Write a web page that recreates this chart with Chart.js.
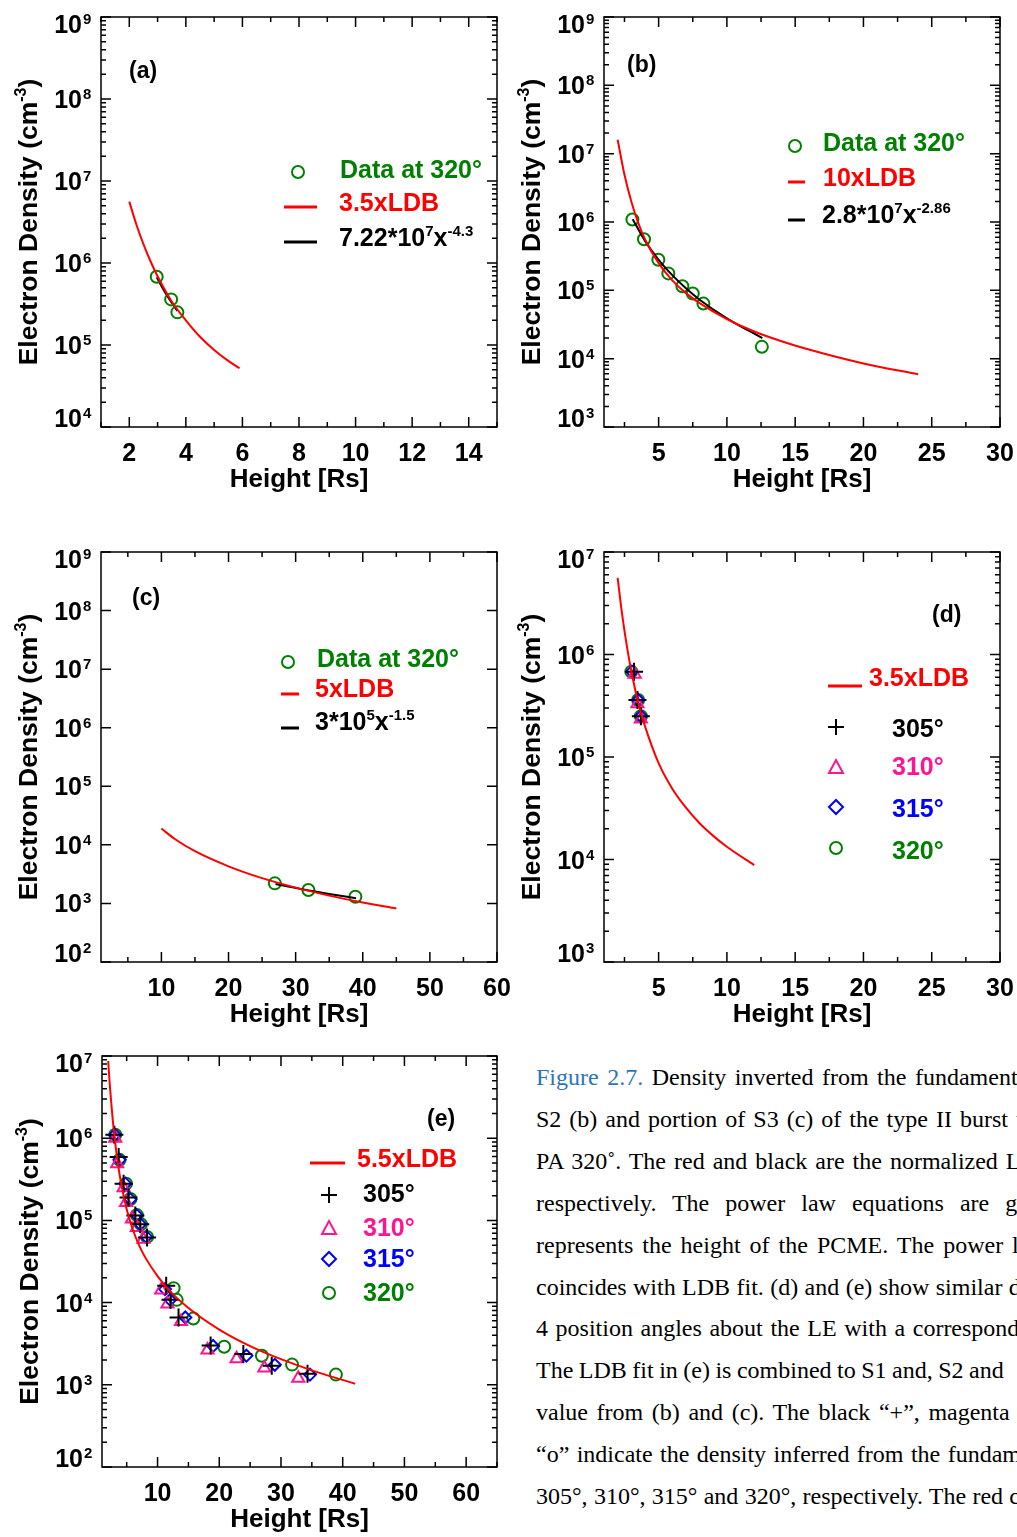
<!DOCTYPE html>
<html>
<head>
<meta charset="utf-8">
<script src="https://cdn.jsdelivr.net/npm/chart.js@4.4.1/dist/chart.umd.min.js"></script>
<style>
  body { margin: 0; width: 1017px; height: 1537px; overflow: hidden; background: #fff; position: relative; }
  canvas { position: absolute; }
  #caption { position: absolute; left: 536px; top: 1057px; font: 24px "Liberation Serif", "Times New Roman", serif;
             line-height: 41.9px; color: #000; white-space: nowrap; }
</style>
</head>
<body>
<canvas id="pa" width="520" height="500" style="left:0;top:0"></canvas>
<canvas id="pb" width="509" height="500" style="left:508px;top:0"></canvas>
<canvas id="pc" width="520" height="500" style="left:0;top:535px"></canvas>
<canvas id="pd" width="509" height="500" style="left:508px;top:535px"></canvas>
<canvas id="pe" width="530" height="497" style="left:0;top:1040px"></canvas>

<div id="caption">
  <div style="word-spacing:2.5px"><span style="color:#2e74b5">Figure 2.7.</span> Density inverted from the fundamental</div>
  <div style="word-spacing:2px">S2 (b) and portion of S3 (c) of the type II burst using</div>
  <div style="word-spacing:2px">PA 320˚. The red and black are the normalized LDB</div>
  <div style="word-spacing:10px">respectively. The power law equations are given</div>
  <div style="word-spacing:3px">represents the height of the PCME. The power law</div>
  <div style="word-spacing:0.4px">coincides with LDB fit. (d) and (e) show similar density</div>
  <div style="word-spacing:1.6px">4 position angles about the LE with a corresponding</div>
  <div style="word-spacing:-0.5px">The LDB fit in (e) is combined to S1 and, S2 and</div>
  <div style="word-spacing:2.6px">value from (b) and (c). The black “+”, magenta</div>
  <div style="word-spacing:1.4px">“o” indicate the density inferred from the fundamental</div>
  <div style="word-spacing:0.3px">305°, 310°, 315° and 320°, respectively. The red curve</div>
</div>

<script>
const RED = '#ff0000';
const GREEN = '#008000';
const MAGENTA = '#ff1493';
const BLUE = '#0000ff';
const FONT = '"Liberation Sans", Arial, sans-serif';

// (a) S1 at 320 deg
const ldbHeightA = [2, 2.25, 2.5, 2.75, 3, 3.5, 4, 4.5, 5, 5.5, 5.9];
const ldbDensityA = [5.6e6, 2.95e6, 1.7e6, 1.05e6, 6.9e5, 3.4e5, 2.0e5, 1.26e5, 8.7e4, 6.4e4, 5.2e4];
const fitHeightA = [2.97, 3.3, 3.7];
const fitDensityA = [6.7e5, 4.2e5, 2.6e5];
const dataHeightA = [2.97, 3.48, 3.70];
const dataDensityA = [6.8e5, 3.6e5, 2.5e5];
const xTicksA = [2, 4, 6, 8, 10, 12, 14];
const yExpA = [4, 5, 6, 7, 8, 9];

// (b) S2 at 320 deg
const ldbHeightB = [2, 2.5, 3, 3.5, 4, 5, 6, 7, 8, 10, 12, 14, 16, 20, 24];
const ldbDensityB = [1.6e7, 4.9e6, 2.0e6, 9.8e5, 5.6e5, 2.5e5, 1.4e5, 9.1e4, 6.5e4, 3.8e4, 2.5e4, 1.8e4, 1.36e4, 8.5e3, 5.9e3];
const fitHeightB = [3.1, 4, 5, 6, 7, 8, 10, 12.6];
const fitDensityB = [1.1e6, 5.3e5, 2.8e5, 1.67e5, 1.07e5, 7.3e4, 3.9e4, 2.0e4];
const dataHeightB = [3.08, 3.93, 4.98, 5.71, 6.74, 7.50, 8.28, 12.56];
const dataDensityB = [1.09e6, 5.6e5, 2.8e5, 1.77e5, 1.15e5, 9.0e4, 6.4e4, 1.49e4];
const xTicksB = [5, 10, 15, 20, 25, 30];
const yExpB = [3, 4, 5, 6, 7, 8, 9];

// (c) S3 at 320 deg
const ldbHeightC = [10, 12, 15, 20, 25, 30, 35, 40, 45];
const ldbDensityC = [1.9e4, 1.26e4, 7.8e3, 4.3e3, 2.7e3, 1.86e3, 1.36e3, 1.04e3, 820];
const fitHeightC = [27, 32, 35, 39];
const fitDensityC = [2.14e3, 1.66e3, 1.45e3, 1.23e3];
const dataHeightC = [26.9, 31.9, 38.9];
const dataDensityC = [2.2e3, 1.7e3, 1.3e3];
const xTicksC = [10, 20, 30, 40, 50, 60];
const yExpC = [2, 3, 4, 5, 6, 7, 8, 9];

// (d) S1, four position angles
const ldbHeightD = [2, 2.25, 2.5, 2.75, 3, 3.5, 4, 5, 6, 7, 8, 9, 10, 12];
const ldbDensityD = [5.6e6, 2.95e6, 1.7e6, 1.05e6, 6.9e5, 3.4e5, 2.0e5, 8.7e4, 4.9e4, 3.2e4, 2.26e4, 1.7e4, 1.33e4, 8.8e3];
const h305D = [3.2, 3.45, 3.7];
const n305D = [6.8e5, 3.6e5, 2.5e5];
const h310D = [3.25, 3.45, 3.7];
const n310D = [6.4e5, 3.3e5, 2.35e5];
const h315D = [3.05, 3.5, 3.7];
const n315D = [6.8e5, 3.6e5, 2.5e5];
const h320D = [3.0, 3.5, 3.7];
const n320D = [6.8e5, 3.6e5, 2.5e5];
const xTicksD = [5, 10, 15, 20, 25, 30];
const yExpD = [3, 4, 5, 6, 7];

// (e) combined, four position angles
const ldbHeightE = [2, 2.25, 2.5, 2.75, 3, 3.5, 4, 5, 6, 7, 8, 10, 12, 15, 20, 25, 30, 35, 42];
const ldbDensityE = [8.7e6, 4.6e6, 2.7e6, 1.65e6, 1.08e6, 5.4e5, 3.1e5, 1.37e5, 7.7e4, 5.0e4, 3.55e4, 2.1e4, 1.38e4, 8.6e3, 4.7e3, 2.96e3, 2.05e3, 1.5e3, 1.03e3];
const h305E = [3.0, 3.7, 4.5, 5.3, 6.4, 7.2, 8.3, 11.4, 12.1, 13.4, 18.6, 23.9, 28.5, 34.3];
const n305E = [1.1e6, 5.9e5, 2.8e5, 1.9e5, 1.15e5, 9.0e4, 6.2e4, 1.6e4, 1.08e4, 6.6e3, 3.0e3, 2.37e3, 1.71e3, 1.36e3];
const h310E = [3.15, 3.45, 4.5, 4.9, 5.85, 6.65, 7.7, 10.6, 11.6, 13.8, 18.1, 22.8, 27.3, 32.8];
const n310E = [1.0e6, 4.9e5, 2.5e5, 1.65e5, 1.04e5, 8.2e4, 5.9e4, 1.42e4, 9.6e3, 5.9e3, 2.65e3, 2.07e3, 1.6e3, 1.2e3];
const h315E = [3.1, 3.85, 4.8, 5.6, 6.65, 7.2, 8.2, 11.2, 12.05, 14.5, 19.0, 24.4, 29.0, 34.7];
const n315E = [1.1e6, 5.45e5, 2.8e5, 1.8e5, 1.15e5, 9.0e4, 6.3e4, 1.46e4, 1.08e4, 6.6e3, 2.97e3, 2.26e3, 1.75e3, 1.33e3];
const h320E = [3.15, 3.85, 4.9, 5.6, 6.65, 7.3, 8.3, 12.6, 13.1, 15.8, 20.8, 26.9, 31.8, 38.9];
const n320E = [1.1e6, 5.45e5, 2.8e5, 1.82e5, 1.16e5, 9.0e4, 6.3e4, 1.5e4, 1.08e4, 6.4e3, 2.9e3, 2.26e3, 1.76e3, 1.33e3];
const xTicksE = [10, 20, 30, 40, 50, 60];
const yExpE = [2, 3, 4, 5, 6, 7];

function pts(xs, ys) {
  return xs.map((v, i) => ({ x: v, y: ys[i] }));
}

function curve(xs, ys, color) {
  return { data: pts(xs, ys), showLine: true, borderColor: color, borderWidth: 2, pointRadius: 0,
           cubicInterpolationMode: 'monotone' };
}

function marks(xs, ys, color, style, r) {
  return { data: pts(xs, ys), showLine: false, pointStyle: style, pointRadius: r, borderColor: color,
           backgroundColor: 'rgba(0,0,0,0)', borderWidth: 2 };
}

// text with superscript parts: [[text, isSup], ...]
function rich(ctx, parts, x, y, size, align) {
  const sup = Math.round(size * 0.6);
  let w = 0;
  parts.forEach(([t, s]) => {
    ctx.font = `bold ${s ? sup : size}px ${FONT}`;
    w += ctx.measureText(t).width;
  });
  let cx = align === 'center' ? x - w / 2 : align === 'right' ? x - w : x;
  ctx.textAlign = 'left';
  ctx.textBaseline = 'alphabetic';
  parts.forEach(([t, s]) => {
    ctx.font = `bold ${s ? sup : size}px ${FONT}`;
    ctx.fillText(t, cx, s ? y - size * 0.4 : y);
    cx += ctx.measureText(t).width;
  });
}

function legendMark(ctx, m) {
  ctx.save();
  ctx.strokeStyle = m.color;
  ctx.lineWidth = 2;
  ctx.beginPath();
  if (m.mark === 'line') {
    ctx.lineWidth = 3;
    ctx.moveTo(m.x0, m.y); ctx.lineTo(m.x1, m.y);
  } else if (m.mark === 'circle') {
    ctx.arc(m.x, m.y, 6, 0, Math.PI * 2);
  } else if (m.mark === 'cross') {
    ctx.moveTo(m.x - 8, m.y); ctx.lineTo(m.x + 8, m.y);
    ctx.moveTo(m.x, m.y - 8); ctx.lineTo(m.x, m.y + 8);
  } else if (m.mark === 'triangle') {
    ctx.moveTo(m.x, m.y - 8);
    ctx.lineTo(m.x + 7, m.y + 5);
    ctx.lineTo(m.x - 7, m.y + 5);
    ctx.closePath();
  } else if (m.mark === 'diamond') {
    ctx.moveTo(m.x - 7, m.y); ctx.lineTo(m.x, m.y - 7);
    ctx.lineTo(m.x + 7, m.y); ctx.lineTo(m.x, m.y + 7);
    ctx.closePath();
  }
  ctx.stroke();
  ctx.restore();
}

const framePlugin = {
  id: 'frame',
  afterDraw(chart, args, o) {
    const { ctx, chartArea: a, scales: { x, y } } = chart;
    ctx.save();
    ctx.strokeStyle = '#000';
    ctx.fillStyle = '#000';
    ctx.lineWidth = 1.5;
    ctx.strokeRect(a.left, a.top, a.right - a.left, a.bottom - a.top);

    // inward ticks on all four sides
    ctx.beginPath();
    const n0 = Math.ceil(x.min / o.xMinor - 1e-9);
    const n1 = Math.floor(x.max / o.xMinor + 1e-9);
    for (let n = n0; n <= n1; n++) {
      const v = n * o.xMinor;
      const px = x.getPixelForValue(v);
      const major = o.xTicks.some(t => Math.abs(t - v) < 1e-6);
      const len = major ? 10 : 5;
      ctx.moveTo(px, a.bottom); ctx.lineTo(px, a.bottom - len);
      ctx.moveTo(px, a.top); ctx.lineTo(px, a.top + len);
    }
    o.yExp.forEach((e, i) => {
      const py = y.getPixelForValue(Math.pow(10, e));
      ctx.moveTo(a.left, py); ctx.lineTo(a.left + 10, py);
      ctx.moveTo(a.right, py); ctx.lineTo(a.right - 10, py);
      if (o.yMinor && i < o.yExp.length - 1) {
        for (let k = 2; k <= 9; k++) {
          const pm = y.getPixelForValue(k * Math.pow(10, e));
          ctx.moveTo(a.left, pm); ctx.lineTo(a.left + 5, pm);
          ctx.moveTo(a.right, pm); ctx.lineTo(a.right - 5, pm);
        }
      }
    });
    ctx.stroke();

    // y tick labels 10^n
    o.yExp.forEach(e => {
      const py = y.getPixelForValue(Math.pow(10, e));
      let base = py + 9;
      base = Math.min(base, a.bottom);
      base = Math.max(base, a.top + 16);
      ctx.font = `bold 25px ${FONT}`;
      ctx.textAlign = 'right';
      ctx.textBaseline = 'alphabetic';
      ctx.fillText('10', a.left - 19, base);
      ctx.font = `bold 15px ${FONT}`;
      ctx.textAlign = 'left';
      ctx.fillText(String(e), a.left - 18, base - 9);
    });

    // x tick labels
    ctx.font = `bold 25px ${FONT}`;
    ctx.textAlign = 'center';
    o.xTicks.forEach(t => {
      ctx.fillText(String(t), x.getPixelForValue(t), a.bottom + 34);
    });

    // axis titles
    ctx.font = `bold 26px ${FONT}`;
    ctx.fillText('Height [Rs]', (a.left + a.right) / 2, a.bottom + 60);
    ctx.save();
    ctx.translate(a.left - 64, (a.top + a.bottom) / 2);
    ctx.rotate(-Math.PI / 2);
    rich(ctx, [['Electron Density (cm', 0], ['-3', 1], [')', 0]], 0, 0, 26.5, 'center');
    ctx.restore();

    // panel label
    ctx.font = `bold 23px ${FONT}`;
    ctx.textAlign = 'left';
    ctx.fillText(o.tag[0], o.tag[1], o.tag[2] + 8);

    // legend
    o.legend.forEach(item => {
      legendMark(ctx, item);
      ctx.fillStyle = item.color;
      rich(ctx, item.text, item.tx, item.ty + 9, 25, 'left');
    });
    ctx.restore();
  }
};

function panel(id, cfg) {
  new Chart(document.getElementById(id), {
    type: 'scatter',
    data: { datasets: cfg.datasets },
    options: {
      responsive: false,
      animation: false,
      events: [],
      layout: { padding: cfg.pad },
      scales: {
        x: { type: 'linear', display: false, min: cfg.xMin, max: cfg.xMax },
        y: { type: 'logarithmic', display: false, min: Math.pow(10, cfg.yExp[0]), max: Math.pow(10, cfg.yExp[cfg.yExp.length - 1]) }
      },
      plugins: {
        legend: { display: false },
        tooltip: { enabled: false },
        frame: { xTicks: cfg.xTicks, xMinor: cfg.xMinor, yExp: cfg.yExp, yMinor: cfg.yMinor, tag: cfg.tag, legend: cfg.legend }
      }
    },
    plugins: [framePlugin]
  });
}

panel('pa', {
  pad: { left: 101, top: 17, right: 23, bottom: 73 },
  xMin: 1, xMax: 15, xTicks: xTicksA, xMinor: 1, yExp: yExpA, yMinor: true,
  tag: ['(a)', 129, 70],
  datasets: [
    curve(ldbHeightA, ldbDensityA, RED),
    marks(dataHeightA, dataDensityA, GREEN, 'circle', 6),
    curve(fitHeightA, fitDensityA, '#000')
  ],
  legend: [
    { mark: 'circle', color: GREEN, x: 298, y: 172, text: [['Data at 320°', 0]], tx: 340, ty: 169 },
    { mark: 'line', color: RED, x0: 284, x1: 317, y: 207, text: [['3.5xLDB', 0]], tx: 339, ty: 202 },
    { mark: 'line', color: '#000', x0: 284, x1: 317, y: 242, text: [['7.22*10', 0], ['7', 1], ['x', 0], ['-4.3', 1]], tx: 339, ty: 237 }
  ]
});

panel('pb', {
  pad: { left: 96, top: 17, right: 17, bottom: 73 },
  xMin: 1, xMax: 30, xTicks: xTicksB, xMinor: 2.5, yExp: yExpB, yMinor: true,
  tag: ['(b)', 119, 64],
  datasets: [
    curve(ldbHeightB, ldbDensityB, RED),
    curve(fitHeightB, fitDensityB, '#000'),
    marks(dataHeightB, dataDensityB, GREEN, 'circle', 6)
  ],
  legend: [
    { mark: 'circle', color: GREEN, x: 287, y: 146, text: [['Data at 320°', 0]], tx: 315, ty: 142 },
    { mark: 'line', color: RED, x0: 280, x1: 297, y: 182, text: [['10xLDB', 0]], tx: 315, ty: 177 },
    { mark: 'line', color: '#000', x0: 280, x1: 297, y: 220, text: [['2.8*10', 0], ['7', 1], ['x', 0], ['-2.86', 1]], tx: 314, ty: 214 }
  ]
});

panel('pc', {
  pad: { left: 101, top: 17, right: 23, bottom: 73 },
  xMin: 1, xMax: 60, xTicks: xTicksC, xMinor: 5, yExp: yExpC, yMinor: false,
  tag: ['(c)', 132, 62],
  datasets: [
    curve(ldbHeightC, ldbDensityC, RED),
    curve(fitHeightC, fitDensityC, '#000'),
    marks(dataHeightC, dataDensityC, GREEN, 'circle', 6)
  ],
  legend: [
    { mark: 'circle', color: GREEN, x: 288, y: 127, text: [['Data at 320°', 0]], tx: 317, ty: 123 },
    { mark: 'line', color: RED, x0: 281, x1: 299, y: 159, text: [['5xLDB', 0]], tx: 315, ty: 153 },
    { mark: 'line', color: '#000', x0: 281, x1: 299, y: 193, text: [['3*10', 0], ['5', 1], ['x', 0], ['-1.5', 1]], tx: 315, ty: 186 }
  ]
});

panel('pd', {
  pad: { left: 96, top: 17, right: 17, bottom: 73 },
  xMin: 1, xMax: 30, xTicks: xTicksD, xMinor: 2.5, yExp: yExpD, yMinor: true,
  tag: ['(d)', 424, 79],
  datasets: [
    curve(ldbHeightD, ldbDensityD, RED),
    marks(h305D, n305D, '#000', 'cross', 9),
    marks(h310D, n310D, MAGENTA, 'triangle', 7),
    marks(h315D, n315D, BLUE, 'rectRot', 6),
    marks(h320D, n320D, GREEN, 'circle', 6)
  ],
  legend: [
    { mark: 'line', color: RED, x0: 320, x1: 354, y: 151, text: [['3.5xLDB', 0]], tx: 361, ty: 142 },
    { mark: 'cross', color: '#000', x: 328, y: 192, text: [['305°', 0]], tx: 384, ty: 193 },
    { mark: 'triangle', color: MAGENTA, x: 328, y: 233, text: [['310°', 0]], tx: 384, ty: 231 },
    { mark: 'diamond', color: BLUE, x: 328, y: 272, text: [['315°', 0]], tx: 384, ty: 273 },
    { mark: 'circle', color: GREEN, x: 328, y: 313, text: [['320°', 0]], tx: 384, ty: 315 }
  ]
});

panel('pe', {
  pad: { left: 102, top: 16, right: 33, bottom: 70 },
  xMin: 1, xMax: 65, xTicks: xTicksE, xMinor: 5, yExp: yExpE, yMinor: true,
  tag: ['(e)', 427, 78],
  datasets: [
    curve(ldbHeightE, ldbDensityE, RED),
    marks(h305E, n305E, '#000', 'cross', 9),
    marks(h310E, n310E, MAGENTA, 'triangle', 7),
    marks(h315E, n315E, BLUE, 'rectRot', 6),
    marks(h320E, n320E, GREEN, 'circle', 6)
  ],
  legend: [
    { mark: 'line', color: RED, x0: 310, x1: 345, y: 123, text: [['5.5xLDB', 0]], tx: 357, ty: 118 },
    { mark: 'cross', color: '#000', x: 329, y: 155, text: [['305°', 0]], tx: 363, ty: 153 },
    { mark: 'triangle', color: MAGENTA, x: 329, y: 189, text: [['310°', 0]], tx: 363, ty: 187 },
    { mark: 'diamond', color: BLUE, x: 329, y: 219, text: [['315°', 0]], tx: 363, ty: 218 },
    { mark: 'circle', color: GREEN, x: 329, y: 253, text: [['320°', 0]], tx: 363, ty: 252 }
  ]
});
</script>
</body>
</html>
